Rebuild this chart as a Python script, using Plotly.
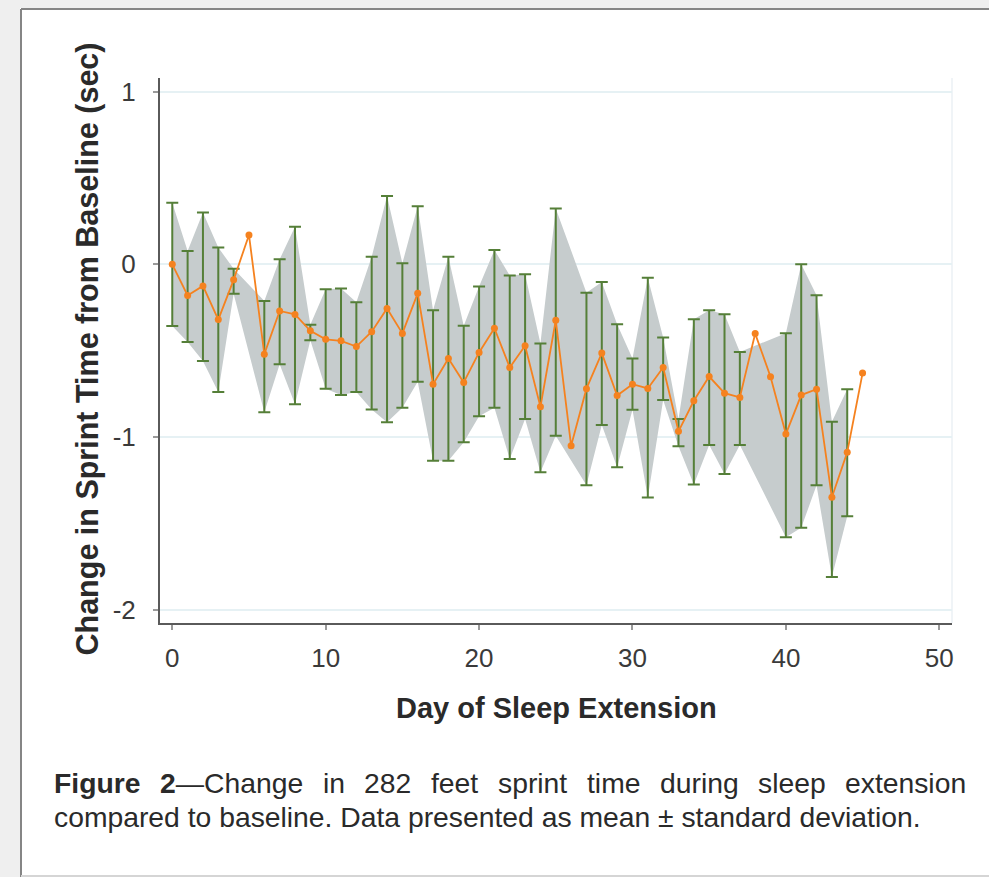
import plotly.graph_objects as go

# ---- data ----
days = list(range(0, 46))
mean = [0.00, -0.18, -0.125, -0.32, -0.09, 0.17, -0.52, -0.27, -0.29, -0.385,
        -0.434, -0.443, -0.476, -0.39, -0.256, -0.40, -0.168, -0.694, -0.545, -0.684,
        -0.51, -0.37, -0.597, -0.472, -0.825, -0.324, -1.05, -0.72, -0.514, -0.76,
        -0.694, -0.719, -0.597, -0.967, -0.79, -0.65, -0.746, -0.771, -0.401, -0.651,
        -0.983, -0.757, -0.723, -1.349, -1.088, -0.63]
upper = [0.357, 0.077, 0.30, 0.097, -0.025, None, -0.212, 0.029, 0.218, -0.35,
         -0.145, -0.14, -0.22, 0.044, 0.395, 0.006, 0.337, -0.266, 0.044, -0.356,
         -0.129, 0.083, -0.064, -0.058, -0.459, 0.324, None, -0.164, -0.102, -0.347,
         -0.545, -0.077, -0.424, -0.896, -0.318, -0.266, -0.289, -0.507, None, None,
         -0.399, 0.0, -0.179, -0.911, -0.723, None]
lower = [-0.357, -0.45, -0.56, -0.74, -0.17, None, -0.857, -0.578, -0.81, -0.44,
         -0.72, -0.757, -0.74, -0.84, -0.915, -0.83, -0.68, -1.137, -1.137, -1.03,
         -0.88, -0.83, -1.127, -0.896, -1.204, -0.992, None, -1.28, -0.93, -1.175,
         -0.842, -1.35, -0.786, -1.054, -1.275, -1.046, -1.214, -1.046, None, None,
         -1.58, -1.526, -1.28, -1.81, -1.459, None]
x_ticks = [0, 10, 20, 30, 40, 50]
x_tick_text = ["0", "10", "20", "30", "40", "50"]
y_ticks = [-2, -1, 0, 1]
y_tick_text = ["-2", "-1", "0", "1"]

x_title = "Day of Sleep Extension"
y_title = "Change in Sprint Time from Baseline (sec)"
caption_line1 = ["<b>Figure</b>", "<b>2</b>\u2014Change", "in", "282", "feet", "sprint",
                 "time", "during", "sleep", "extension"]
caption_line2 = "compared to baseline. Data presented as mean \u00b1 standard deviation."

# ---- styling ----
W, H = 989, 877
ML, MR, MT, MB = 160, 37, 78, 254
PW, PH = W - ML - MR, H - MT - MB
GREEN = "#557F38"
ORANGE = "#F5821F"
SHADE = "#C6CCCD"
FONT = "Liberation Sans, Arial, sans-serif"
NARROW = "Liberation Sans Narrow, Arial Narrow, Liberation Sans, Arial, sans-serif"


def pxx(px):
    return (px - ML) / PW


def pxy(py):
    return (H - MB - py) / PH


sd_idx = [i for i in range(len(days)) if upper[i] is not None]
d_sd = [days[i] for i in sd_idx]
u_sd = [upper[i] for i in sd_idx]
l_sd = [lower[i] for i in sd_idx]
m_sd = [mean[i] for i in sd_idx]

fig = go.Figure()
fig.add_trace(go.Scatter(x=d_sd, y=u_sd, mode="lines", line=dict(width=0, color=SHADE),
                         hoverinfo="skip", showlegend=False))
fig.add_trace(go.Scatter(x=d_sd, y=l_sd, mode="lines", line=dict(width=0, color=SHADE),
                         fill="tonexty", fillcolor=SHADE, hoverinfo="skip", showlegend=False))
fig.add_trace(go.Scatter(
    x=d_sd, y=m_sd, mode="markers", marker=dict(size=1, opacity=0),
    error_y=dict(type="data", symmetric=False,
                 array=[u - m for u, m in zip(u_sd, m_sd)],
                 arrayminus=[m - l for m, l in zip(m_sd, l_sd)],
                 color=GREEN, thickness=2, width=6),
    showlegend=False, hoverinfo="skip"))
fig.add_trace(go.Scatter(x=days, y=mean, mode="lines+markers",
                         line=dict(color=ORANGE, width=1.8),
                         marker=dict(color=ORANGE, size=7), showlegend=False))

axis_font = dict(family=NARROW, size=26, color="#3a3a3a")
fig.update_xaxes(range=[-0.80, 50.83], tickvals=x_ticks, ticktext=x_tick_text,
                 showgrid=False, zeroline=False,
                 showline=True, linecolor="#5a5a5a", linewidth=2,
                 ticks="outside", ticklen=5, tickwidth=2, tickcolor="#9a9a9a",
                 tickfont=axis_font, ticklabelstandoff=6)
fig.update_yaxes(range=[-2.077, 1.079], tickvals=y_ticks, ticktext=y_tick_text,
                 showgrid=True, gridcolor="#E6F1F4", gridwidth=2, zeroline=False,
                 showline=True, linecolor="#5a5a5a", linewidth=2,
                 ticks="outside", ticklen=5, tickwidth=2, tickcolor="#9a9a9a",
                 tickfont=axis_font, ticklabelstandoff=12)

annotations = [
    dict(text=f"<b>{x_title}</b>", x=pxx(556), y=pxy(708), xref="paper", yref="paper",
         xanchor="center", yanchor="middle", showarrow=False,
         font=dict(family=FONT, size=29, color="#2a2a2a")),
    dict(text=f"<b>{y_title}</b>", x=pxx(86.5), y=pxy(349), xref="paper", yref="paper",
         xanchor="center", yanchor="middle", showarrow=False, textangle=-90,
         font=dict(family=FONT, size=30.5, color="#2a2a2a")),
]

# justified first caption line: word widths from Arial metrics
REG = {'a': .556, 'b': .556, 'c': .5, 'd': .556, 'e': .556, 'f': .278, 'g': .556, 'h': .556,
       'i': .222, 'l': .222, 'm': .833, 'n': .556, 'o': .556, 'p': .556, 'r': .333, 's': .5,
       't': .278, 'u': .556, 'v': .5, 'x': .5, '2': .556, '8': .556, 'C': .722,
       '\u2014': 1.0}
BOLD = {'F': .611, 'i': .278, 'g': .611, 'u': .611, 'r': .389, 'e': .556, '2': .556}
CAP_SIZE = 28.3


def word_width(w):
    total = 0.0
    bold = False
    j = 0
    while j < len(w):
        if w.startswith("<b>", j):
            bold = True
            j += 3
            continue
        if w.startswith("</b>", j):
            bold = False
            j += 4
            continue
        ch = w[j]
        total += (BOLD if bold else REG)[ch]
        j += 1
    return total * CAP_SIZE


left_px, right_px = 53, 965
widths = [word_width(w) for w in caption_line1]
gap = (right_px - left_px - sum(widths)) / (len(caption_line1) - 1)
xcur = left_px
cap_font = dict(family=FONT, size=CAP_SIZE, color="#2a2a2a")
for w, wd in zip(caption_line1, widths):
    annotations.append(dict(text=w, x=pxx(xcur), y=pxy(783), xref="paper", yref="paper",
                            xanchor="left", yanchor="middle", showarrow=False,
                            font=cap_font, borderpad=0))
    xcur += wd + gap
annotations.append(dict(text=caption_line2, x=pxx(left_px), y=pxy(817), xref="paper",
                        yref="paper", xanchor="left", yanchor="middle", showarrow=False,
                        font=cap_font, borderpad=0))

shapes = [
    dict(type="rect", xref="paper", yref="paper", x0=pxx(0), x1=pxx(20), y0=pxy(877), y1=pxy(0),
         fillcolor="#EFEFEF", line=dict(width=0), layer="below"),
    dict(type="rect", xref="paper", yref="paper", x0=pxx(0), x1=pxx(989), y0=pxy(8), y1=pxy(0),
         fillcolor="#EFEFEF", line=dict(width=0), layer="below"),
    dict(type="line", xref="paper", yref="paper", x0=pxx(21), x1=pxx(21), y0=pxy(877), y1=pxy(9),
         line=dict(color="#858585", width=2)),
    dict(type="line", xref="paper", yref="paper", x0=pxx(21), x1=pxx(989), y0=pxy(9), y1=pxy(9),
         line=dict(color="#858585", width=2)),
    dict(type="line", xref="paper", yref="paper", x0=pxx(21), x1=pxx(989), y0=pxy(876), y1=pxy(876),
         line=dict(color="#D5D5D5", width=2)),
    dict(type="line", xref="paper", yref="paper", x0=1, x1=1, y0=0, y1=1,
         line=dict(color="#F0F4F7", width=2), layer="below"),
]

fig.update_layout(width=W, height=H, margin=dict(l=ML, r=MR, t=MT, b=MB),
                  paper_bgcolor="white", plot_bgcolor="white",
                  annotations=annotations, shapes=shapes, showlegend=False)

fig.write_html("out.html")
